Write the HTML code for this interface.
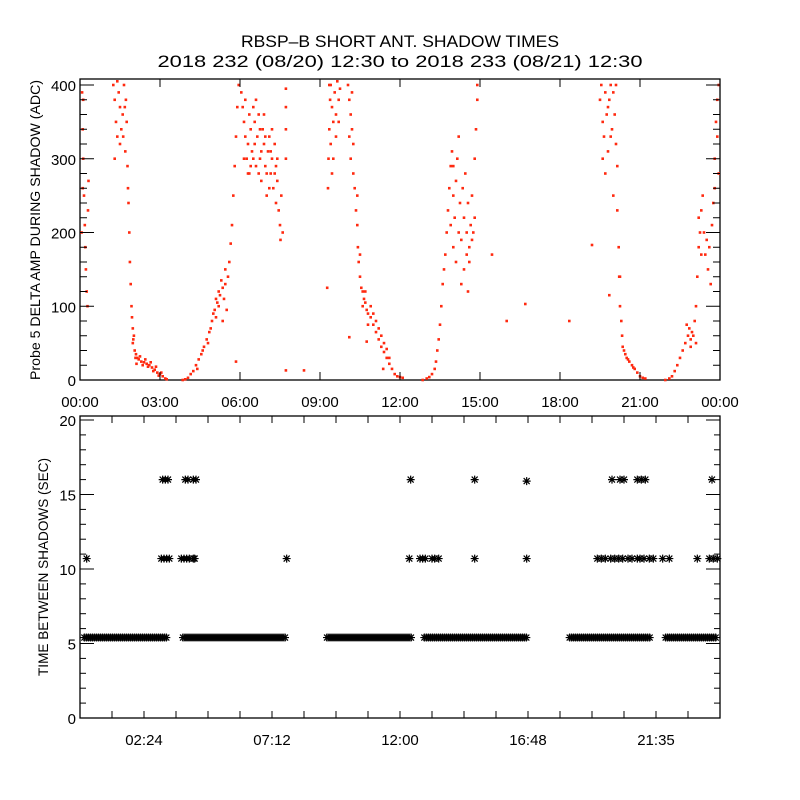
<!DOCTYPE html>
<html><head><meta charset="utf-8"><style>
html,body{margin:0;padding:0;background:#fff;}
svg{display:block;font-family:"Liberation Sans",sans-serif;}
</style></head><body>
<svg id="chart" width="800" height="800" viewBox="0 0 800 800" xmlns="http://www.w3.org/2000/svg">
<rect x="0" y="0" width="800" height="800" fill="#fff"/>
<text x="400" y="47" text-anchor="middle" font-size="17" textLength="318" lengthAdjust="spacingAndGlyphs">RBSP–B SHORT ANT. SHADOW TIMES</text>
<text x="400" y="67" text-anchor="middle" font-size="17" textLength="485" lengthAdjust="spacingAndGlyphs">2018 232 (08/20) 12:30 to 2018 233 (08/21) 12:30</text>
<g id="topPanel"></g>
<g id="botPanel"></g>
<text transform="translate(40,230) rotate(-90)" text-anchor="middle" font-size="14" textLength="300" lengthAdjust="spacingAndGlyphs">Probe 5 DELTA AMP DURING SHADOW (ADC)</text>
<text transform="translate(48,567) rotate(-90)" text-anchor="middle" font-size="14" textLength="218" lengthAdjust="spacingAndGlyphs">TIME BETWEEN SHADOWS (SEC)</text>
</svg>
<script>
// ---- top panel data (hours since 00:00, ADC) ----
const ampTime=[0.08,0.1,0.12,0.15,0.18,0.2,0.22,0.25,0.28,0.3,0.32,0.12,0.06,0.1,
1.25,1.3,1.35,1.4,1.45,1.5,1.55,1.6,1.65,1.7,1.72,1.75,1.3,1.4,1.5,1.62,1.68,1.78,1.8,1.82,1.85,1.87,1.9,1.93,1.95,1.98,2.0,2.05,2.1,2.15,2.2,2.3,2.4,2.5,2.6,2.7,2.8,2.9,3.0,3.1,3.2,3.25,2.25,2.35,2.45,2.55,2.65,2.75,2.85,2.95,3.05,1.98,2.02,2.08,2.12,
3.85,3.95,4.05,4.15,4.25,4.35,4.45,4.55,4.65,4.75,4.85,4.95,5.05,5.15,5.25,5.35,5.45,5.55,5.6,5.65,5.7,5.75,5.8,5.85,5.9,5.95,4.4,4.6,4.8,5.0,5.1,5.2,5.3,5.4,5.5,5.2,4.9,5.45,5.1,5.35,
6.05,6.1,6.15,6.2,6.25,6.3,6.35,6.4,6.45,6.5,6.55,6.6,6.65,6.7,6.75,6.8,6.85,6.9,6.95,7.0,7.05,7.1,7.15,7.2,7.25,7.3,7.35,7.4,7.45,7.5,7.55,7.6,7.52,6.2,6.4,6.6,6.8,7.0,7.2,7.4,6.3,6.5,6.7,6.9,7.1,7.3,6.15,6.35,6.55,6.75,6.95,7.15,7.35,
5.85,7.72,7.72,7.72,7.72,7.72,8.4,9.27,10.1,10.75,11.37,15.45,16.0,16.7,18.35,19.2,19.85,
9.3,9.32,9.35,9.38,9.4,9.45,9.5,9.55,9.6,9.65,9.7,9.4,9.5,9.6,9.7,9.45,9.35,9.75,
10.05,10.1,10.15,10.2,10.25,10.1,10.15,10.2,10.25,10.3,10.35,10.4,10.42,10.45,10.5,10.55,10.6,10.65,10.7,10.75,10.8,10.9,11.0,11.1,11.2,11.3,11.4,11.5,11.6,11.7,11.8,11.9,12.0,12.1,10.6,10.7,10.8,10.9,11.0,11.1,11.2,11.3,11.4,11.5,11.6,10.5,10.4,
12.85,13.0,13.1,13.2,13.3,13.35,13.4,13.45,13.5,13.55,13.6,13.65,13.7,13.75,13.8,13.85,13.9,13.95,
13.9,14.0,14.0,14.05,14.1,14.1,14.15,14.2,14.25,14.3,14.3,14.35,14.4,14.45,14.5,14.5,14.55,14.6,14.6,14.65,14.7,14.7,14.75,14.8,14.8,14.85,14.9,14.9,14.2,14.0,14.4,14.55,
19.5,19.55,19.6,19.65,19.7,19.75,19.8,19.85,19.9,19.95,19.6,19.7,19.8,19.9,20.0,20.05,20.1,20.15,20.15,20.2,20.22,20.25,20.3,20.33,20.35,20.4,20.45,20.5,20.6,20.7,20.8,20.9,21.0,21.1,21.2,20.1,20.0,20.25,20.55,20.75,
21.95,22.1,22.2,22.3,22.4,22.5,22.6,22.7,22.8,22.75,22.85,22.9,22.95,23.0,23.05,23.1,22.9,23.1,23.15,23.2,23.25,23.3,23.35,23.2,23.3,23.4,23.45,23.5,23.55,23.6,23.65,23.7,23.75,23.8,23.85,23.9,23.95,23.8,23.9,23.95];
const ampValue=[390,340,300,250,210,180,150,120,100,230,270,380,200,260,
400,380,350,330,390,370,340,360,400,310,380,350,300,405,320,330,370,290,260,240,200,160,130,100,85,70,55,40,35,30,28,25,24,22,20,17,14,10,8,5,2,1,32,20,28,18,24,12,18,6,10,50,60,30,22,
0,1,3,8,12,20,28,35,45,55,65,80,95,105,115,125,130,140,160,185,210,250,290,330,370,400,15,40,50,90,110,100,135,110,95,120,70,150,85,80,
390,370,350,330,300,280,360,340,310,370,350,290,330,360,300,270,340,320,290,250,310,330,280,300,260,320,240,270,230,210,250,200,190,380,290,380,310,280,340,300,320,300,280,360,260,280,300,280,320,340,330,310,290,
25,395,370,340,300,13,13,125,58,52,15,170,80,103,80,183,115,
260,300,340,380,400,370,350,390,330,405,380,320,300,360,350,280,400,395,
400,380,360,340,320,330,300,390,280,260,230,210,180,160,140,125,120,110,105,95,90,85,75,65,55,45,38,30,22,15,8,5,4,3,100,120,75,100,90,80,70,60,50,42,30,170,250,
0,2,4,8,15,25,40,55,75,100,130,150,170,200,230,260,290,310,
210,180,250,220,270,160,300,200,240,190,130,260,220,280,170,200,240,180,160,210,190,250,200,220,300,340,380,400,330,290,150,120,
380,400,350,330,390,360,310,380,400,340,300,280,370,330,390,360,320,290,230,180,140,100,80,60,45,40,35,30,25,20,15,10,5,3,2,400,250,140,28,17,
0,2,5,12,20,30,40,50,60,75,70,55,65,60,80,50,45,100,140,180,200,230,250,220,170,200,170,190,150,180,130,210,240,300,350,380,400,260,330,280];
// ---- bottom panel data ----
const gapRunStart=[0.05,3.75,9.15,12.8,18.25,21.85];   // hours
const gapRunEnd=[3.4,7.8,12.55,16.9,21.5,24.0];
const gapRunValue=[5.4,5.4,5.4,5.4,5.4,5.4];
const gapTime=[0.25,3.05,3.15,3.25,3.35,3.8,3.9,4.0,4.1,4.25,4.3,7.75,12.35,12.75,12.85,12.95,13.2,13.3,13.45,14.8,16.75,19.4,19.55,19.7,19.9,20.05,20.2,20.35,20.55,20.7,20.9,21.0,21.15,21.35,21.5,21.85,22.1,23.15,23.6,23.75,23.9,
3.1,3.2,3.3,3.95,4.05,4.25,4.35,12.4,14.8,16.75,19.95,20.25,20.4,20.9,21.05,21.2,23.7];
const gapValue=[10.7,10.7,10.7,10.7,10.7,10.7,10.7,10.7,10.7,10.7,10.7,10.7,10.7,10.7,10.7,10.7,10.7,10.7,10.7,10.7,10.7,10.7,10.7,10.7,10.7,10.7,10.7,10.7,10.7,10.7,10.7,10.7,10.7,10.7,10.7,10.7,10.7,10.7,10.7,10.7,10.7,
16,16,16,16,16,16,16,16,16,15.9,16,16,16,16,16,16,16];
const topXTicks=["00:00","03:00","06:00","09:00","12:00","15:00","18:00","21:00","00:00"];
const topYTicks=[0,100,200,300,400];
const botXTicks=["02:24","07:12","12:00","16:48","21:35"];
const botYTicks=[0,5,10,15,20];

const NS="http://www.w3.org/2000/svg";
const L=80,R=720;
const xH=h=>L+(R-L)*h/24;
const yTop=v=>380-v*(380-85)/400;
const yBot=v=>718-v*(718-420)/20;
function mk(tag,attrs,parent){const e=document.createElementNS(NS,tag);for(const k in attrs)e.setAttribute(k,attrs[k]);parent.appendChild(e);return e;}
const topG=document.getElementById('topPanel'),botG=document.getElementById('botPanel');

function frame(g,y0,y1,name){
  const r=mk('rect',{x:L,y:y0,width:R-L,height:y1-y0,fill:'none',stroke:'#000','stroke-width':1.3},g);
  
  
}
// top panel
frame(topG,79,380,'top-plot-frame');
const dots=mk('g',{fill:'#ff2a10'},topG);


for(let i=0;i<ampTime.length;i++){
  const d=mk('rect',{x:(xH(ampTime[i])-1.3).toFixed(1),y:(Math.max(80,yTop(ampValue[i]))-1.3).toFixed(1),width:2.6,height:2.6},dots);
  
  
}
for(let i=0;i<topXTicks.length;i++){
  const x=xH(i*3);
  const t1=mk('line',{x1:x,x2:x,y1:380,y2:372,stroke:'#000'},topG);
  
  
  const t2=mk('line',{x1:x,x2:x,y1:79,y2:87,stroke:'#000'},topG);
  
  
  const lb=mk('text',{x:x,y:407,'text-anchor':'middle','font-size':15},topG);
  lb.textContent=topXTicks[i];
  
  
}
for(let v=0;v<=400;v+=20){
  const major=topYTicks.includes(v);const len=major?14:7;const y=yTop(v);
  const a=mk('line',{x1:L,x2:L+len,y1:y,y2:y,stroke:'#000'},topG);
  
  
  const b=mk('line',{x1:R,x2:R-len,y1:y,y2:y,stroke:'#000'},topG);
  
  
}
topYTicks.forEach(v=>{
  const lb=mk('text',{x:76,y:yTop(v)+6,'text-anchor':'end','font-size':15},topG);
  lb.textContent=v;
  
  
});
// bottom panel
frame(botG,416,718,'bottom-plot-frame');
const ast=mk('g',{stroke:'#000','stroke-width':1.2,fill:'none'},botG);


function star(x,y){
  const g=mk('path',{d:`M${x-4},${y}H${x+4}M${x},${y-4}V${y+4}M${x-3},${y-3}L${x+3},${y+3}M${x-3},${y+3}L${x+3},${y-3}`},ast);
  
  
}
for(let i=0;i<gapRunStart.length;i++){
  const x0=xH(gapRunStart[i])+3,x1=xH(gapRunEnd[i])-3;
  for(let x=x0;x<=x1;x+=2)star(x,yBot(gapRunValue[i]));
}
for(let i=0;i<gapTime.length;i++)star(xH(gapTime[i]),yBot(gapValue[i]));
for(let h=0;h<=24.001;h+=1.2){
  const x=xH(h);
  const a=mk('line',{x1:x,x2:x,y1:718,y2:711,stroke:'#000'},botG);
  
  
  const b=mk('line',{x1:x,x2:x,y1:416,y2:423,stroke:'#000'},botG);
  
  
}
botXTicks.forEach((s,i)=>{
  const lb=mk('text',{x:xH(4.8*(i+0.5)),y:745,'text-anchor':'middle','font-size':15},botG);
  lb.textContent=s;
  
  
});
for(let v=0;v<=20;v++){
  const major=botYTicks.includes(v);const len=major?14:6;const y=yBot(v);
  const a=mk('line',{x1:L,x2:L+len,y1:y,y2:y,stroke:'#000'},botG);
  
  
  const b=mk('line',{x1:R,x2:R-len,y1:y,y2:y,stroke:'#000'},botG);
  
  
}
botYTicks.forEach(v=>{
  const lb=mk('text',{x:76,y:yBot(v)+6,'text-anchor':'end','font-size':15},botG);
  lb.textContent=v;
  
  
});
</script>
</body></html>
